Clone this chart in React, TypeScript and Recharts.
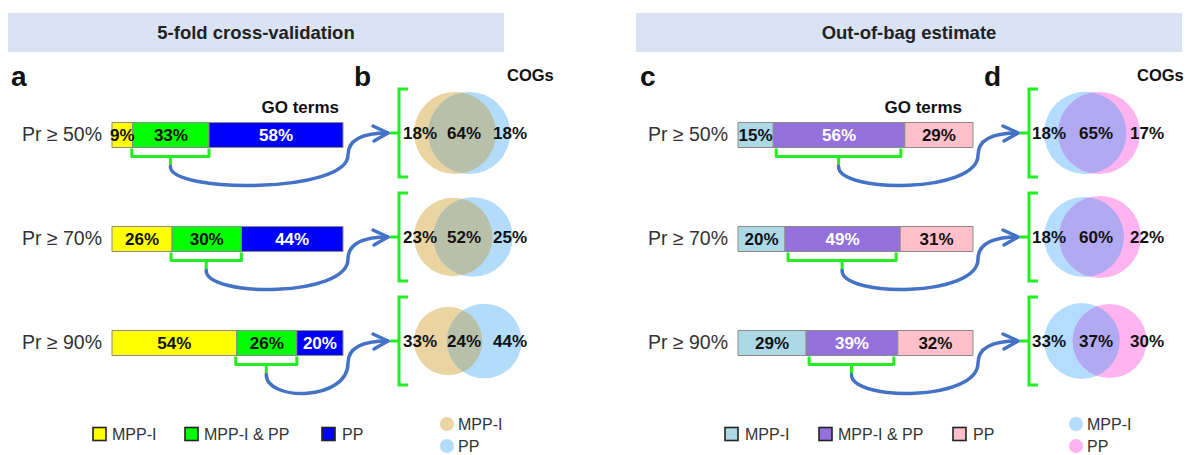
import React from 'react';
import { BarChart, Bar, XAxis, YAxis, LabelList } from 'recharts';

const FONT = '"Liberation Sans", Arial, sans-serif';

const thresholds = ['Pr ≥ 50%', 'Pr ≥ 70%', 'Pr ≥ 90%'];

// 5-fold cross-validation: GO terms
const cvGoMpp = [9, 26, 54];
const cvGoBoth = [33, 30, 26];
const cvGoPp = [58, 44, 20];
// 5-fold cross-validation: COGs
const cvCogMpp = [18, 23, 33];
const cvCogBoth = [64, 52, 24];
const cvCogPp = [18, 25, 44];

// out-of-bag: GO terms
const oobGoMpp = [15, 20, 29];
const oobGoBoth = [56, 49, 39];
const oobGoPp = [29, 31, 32];
// out-of-bag: COGs
const oobCogMpp = [18, 18, 33];
const oobCogBoth = [65, 60, 37];
const oobCogPp = [17, 22, 30];

const legendBars = ['MPP-I', 'MPP-I & PP', 'PP'];
const legendVenn = ['MPP-I', 'PP'];

const buildRows = (mpp: number[], both: number[], pp: number[], cMpp: number[], cBoth: number[], cPp: number[]) =>
  thresholds.map((name, i) => ({
    name, mpp: mpp[i], both: both[i], pp: pp[i], cMpp: cMpp[i], cBoth: cBoth[i], cPp: cPp[i],
  }));

const cvRows = buildRows(cvGoMpp, cvGoBoth, cvGoPp, cvCogMpp, cvCogBoth, cvCogPp);
const oobRows = buildRows(oobGoMpp, oobGoBoth, oobGoPp, oobCogMpp, oobCogBoth, oobCogPp);

const GREEN = '#22ee22';
const ARROW = '#4472C4';
const K = 64.4; // px^2 per percent for the venn circles

// area of the lens between two circles
const lens = (r1: number, r2: number, d: number) => {
  if (d >= r1 + r2) return 0;
  if (d <= Math.abs(r1 - r2)) return Math.PI * Math.min(r1, r2) ** 2;
  const a = r1 * r1 * Math.acos((d * d + r1 * r1 - r2 * r2) / (2 * d * r1));
  const b = r2 * r2 * Math.acos((d * d + r2 * r2 - r1 * r1) / (2 * d * r2));
  const c = 0.5 * Math.sqrt((-d + r1 + r2) * (d + r1 - r2) * (d - r1 + r2) * (d + r1 + r2));
  return a + b - c;
};

const solveDist = (r1: number, r2: number, area: number) => {
  let lo = Math.abs(r1 - r2), hi = r1 + r2;
  for (let k = 0; k < 50; k++) {
    const mid = (lo + hi) / 2;
    if (lens(r1, r2, mid) > area) lo = mid; else hi = mid;
  }
  return (lo + hi) / 2;
};

type PanelCfg = {
  id: string;
  fills: string[];
  labelFills: string[];
  vennColors: string[];
  vennLabelDx: number[];
  inset: number;
  plotRight: number;
};

const cvCfg: PanelCfg = {
  id: 'cv',
  fills: ['#FFFF00', '#00FF00', '#0000FF'],
  labelFills: ['#111', '#111', '#fff'],
  vennColors: ['#E9D4A2', '#B3DBFA', '#B9C0A9'],
  vennLabelDx: [22, 66, 112],
  inset: 0,
  plotRight: 343,
};

const oobCfg: PanelCfg = {
  id: 'oob',
  fills: ['#ADD8E6', '#9370DB', '#FFC0CB'],
  labelFills: ['#111', '#fff', '#111'],
  vennColors: ['#B3DCFF', '#FFB3EF', '#B1A9F2'],
  vennLabelDx: [21, 68, 119],
  inset: 4,
  plotRight: 973,
};

const makeMiddleShape = (cfg: PanelCfg) => (props: any) => {
  const { x, y, width, height, payload, index } = props;
  const pxPer = width / payload.both;
  const barEnd = x + width + payload.pp * pxPer;
  const bottom = y + height;
  const l = x + cfg.inset - 1;
  const r = x + width - cfg.inset;
  const mid = (l + r) / 2;
  const sy = bottom + 19;
  const bx = barEnd + 55;
  const cy = y + height / 2 - 2;
  const ex = bx - 10;
  const ey = cy;

  const r1 = Math.sqrt(((payload.cMpp + payload.cBoth) * K) / Math.PI);
  const r2 = Math.sqrt(((payload.cPp + payload.cBoth) * K) / Math.PI);
  const d = solveDist(r1, r2, payload.cBoth * K);
  const x1 = bx + 16 + r1;
  const x2 = x1 + d;
  const clipId = `venn-${cfg.id}-${index}`;
  const lblStyle = { fontFamily: FONT, fontSize: 17, fontWeight: 700, fill: '#111' };
  const vx = ex - 40;

  return (
    <g>
      <rect x={x} y={y} width={width} height={height} fill={cfg.fills[1]} stroke="#8a8a8a" strokeWidth={1} />
      {/* bracket under the shared segment */}
      <path
        d={`M ${l} ${bottom + 1} V ${bottom + 9} H ${r} V ${bottom + 1} M ${mid} ${bottom + 9} V ${sy}`}
        fill="none" stroke={GREEN} strokeWidth={3} strokeLinejoin="round"
      />
      {/* curved arrow */}
      <path
        d={`M ${mid} ${sy} C ${mid} ${sy + 27}, ${vx} ${sy + 27}, ${vx} ${ey + 22} C ${vx} ${ey + 5}, ${ex - 22} ${ey}, ${ex} ${ey}`}
        fill="none" stroke={ARROW} strokeWidth={3.5} strokeLinecap="round"
      />
      <path d={`M ${ex - 15} ${ey - 7} L ${ex} ${ey} L ${ex - 14} ${ey + 8}`} fill="none" stroke={ARROW} strokeWidth={3.5} strokeLinecap="round" strokeLinejoin="round" />
      {/* venn */}
      <defs>
        <clipPath id={clipId}>
          <circle cx={x1} cy={cy} r={r1} />
        </clipPath>
      </defs>
      <circle cx={x1} cy={cy} r={r1} fill={cfg.vennColors[0]} />
      <circle cx={x2} cy={cy} r={r2} fill={cfg.vennColors[1]} />
      <circle cx={x2} cy={cy} r={r2} fill={cfg.vennColors[2]} clipPath={`url(#${clipId})`} />
      <path
        d={`M ${bx + 10} ${cy - 44} H ${bx + 1} V ${cy + 44} H ${bx + 10} M ${bx - 8} ${cy} H ${bx + 1}`}
        fill="none" stroke={GREEN} strokeWidth={3}
      />
      <text x={bx + cfg.vennLabelDx[0]} y={cy + 6} textAnchor="middle" style={lblStyle}>{payload.cMpp}%</text>
      <text x={bx + cfg.vennLabelDx[1]} y={cy + 6} textAnchor="middle" style={lblStyle}>{payload.cBoth}%</text>
      <text x={bx + cfg.vennLabelDx[2]} y={cy + 6} textAnchor="middle" style={lblStyle}>{payload.cPp}%</text>
    </g>
  );
};

const pct = (v: any) => `${v}%`;

const Panel = ({ rows, cfg, width, left, yWidth }: { rows: any[]; cfg: PanelCfg; width: number; left: number; yWidth: number; }) => {
  const marginRight = left + width - cfg.plotRight;
  const labelProps = (i: number) => ({
    position: 'center' as const,
    formatter: pct,
    fill: cfg.labelFills[i],
    fontSize: 17,
    fontWeight: 700,
    fontFamily: FONT,
  });
  return (
    <div style={{ position: 'absolute', left, top: 0 }}>
      <BarChart
        width={width}
        height={455}
        data={rows}
        layout="vertical"
        margin={{ top: 82.5, bottom: 60.5, left: 10, right: marginRight }}
      >
        <XAxis type="number" domain={[0, 100]} hide />
        <YAxis
          type="category"
          dataKey="name"
          width={yWidth}
          axisLine={false}
          tickLine={false}
          tickSize={0}
          tickMargin={10}
          tick={{ fontSize: 19.5, fill: '#333', fontFamily: FONT }}
        />
        <Bar dataKey="mpp" stackId="s" barSize={25} fill={cfg.fills[0]} stroke="#8a8a8a" strokeWidth={1} isAnimationActive={false}>
          <LabelList dataKey="mpp" {...labelProps(0)} />
        </Bar>
        <Bar dataKey="both" stackId="s" barSize={25} fill={cfg.fills[1]} shape={makeMiddleShape(cfg)} isAnimationActive={false}>
          <LabelList dataKey="both" {...labelProps(1)} />
        </Bar>
        <Bar dataKey="pp" stackId="s" barSize={25} fill={cfg.fills[2]} stroke="#8a8a8a" strokeWidth={1} isAnimationActive={false}>
          <LabelList dataKey="pp" {...labelProps(2)} />
        </Bar>
      </BarChart>
    </div>
  );
};

const txt = { fontFamily: FONT };

const Legend = ({ x, y, gaps, fills, vx, vcolors }: { x: number[]; y: number; gaps: number[]; fills: string[]; vx: number; vcolors: string[]; }) => (
  <g>
    {legendBars.map((name, i) => (
      <g key={name}>
        <rect x={x[i]} y={y - 6.5} width={13} height={13} fill={fills[i]} stroke="#222" strokeWidth={1.6} />
        <text x={x[i] + gaps[i]} y={y + 6} style={{ ...txt, fontSize: 16, fill: '#333' }}>{name}</text>
      </g>
    ))}
    {legendVenn.map((name, i) => (
      <g key={name}>
        <circle cx={vx} cy={y - 10 + i * 22} r={7} fill={vcolors[i]} />
        <text x={vx + 11} y={y - 4 + i * 22} style={{ ...txt, fontSize: 16, fill: '#333' }}>{name}</text>
      </g>
    ))}
  </g>
);

export default function App() {
  const bold = { ...txt, fontWeight: 700 };
  return (
    <div style={{ position: 'absolute', left: 0, top: 0, width: 1192, height: 455, background: '#fff' }}>
      <svg width={1192} height={455} style={{ position: 'absolute', left: 0, top: 0 }}>
        <rect x={8} y={13} width={496} height={39} fill="#DAE3F3" />
        <text x={256} y={38.5} textAnchor="middle" style={{ ...bold, fontSize: 18.5, fill: '#222' }}>5-fold cross-validation</text>
        <rect x={636} y={13} width={546} height={39} fill="#DAE3F3" />
        <text x={909} y={38.5} textAnchor="middle" style={{ ...bold, fontSize: 18.5, fill: '#222' }}>Out-of-bag estimate</text>

        <text x={11} y={86} style={{ ...bold, fontSize: 28, fill: '#111' }}>a</text>
        <text x={354} y={86} style={{ ...bold, fontSize: 28, fill: '#111' }}>b</text>
        <text x={640} y={86} style={{ ...bold, fontSize: 28, fill: '#111' }}>c</text>
        <text x={984} y={86} style={{ ...bold, fontSize: 28, fill: '#111' }}>d</text>

        <text x={339} y={113} textAnchor="end" style={{ ...bold, fontSize: 17, fill: '#111' }}>GO terms</text>
        <text x={962} y={113} textAnchor="end" style={{ ...bold, fontSize: 17, fill: '#111' }}>GO terms</text>
        <text x={507} y={81} style={{ ...bold, fontSize: 16.5, fill: '#111' }}>COGs</text>
        <text x={1137} y={81} style={{ ...bold, fontSize: 16.5, fill: '#111' }}>COGs</text>

        <Legend x={[93, 185, 322]} y={434} gaps={[19, 19, 20]} fills={cvCfg.fills} vx={447} vcolors={cvCfg.vennColors} />
        <Legend x={[725, 819, 953]} y={434} gaps={[20, 19, 20]} fills={oobCfg.fills} vx={1076} vcolors={oobCfg.vennColors} />
      </svg>
      <Panel rows={cvRows} cfg={cvCfg} width={600} left={0} yWidth={102} />
      <Panel rows={oobRows} cfg={oobCfg} width={592} left={600} yWidth={128} />
    </div>
  );
}
